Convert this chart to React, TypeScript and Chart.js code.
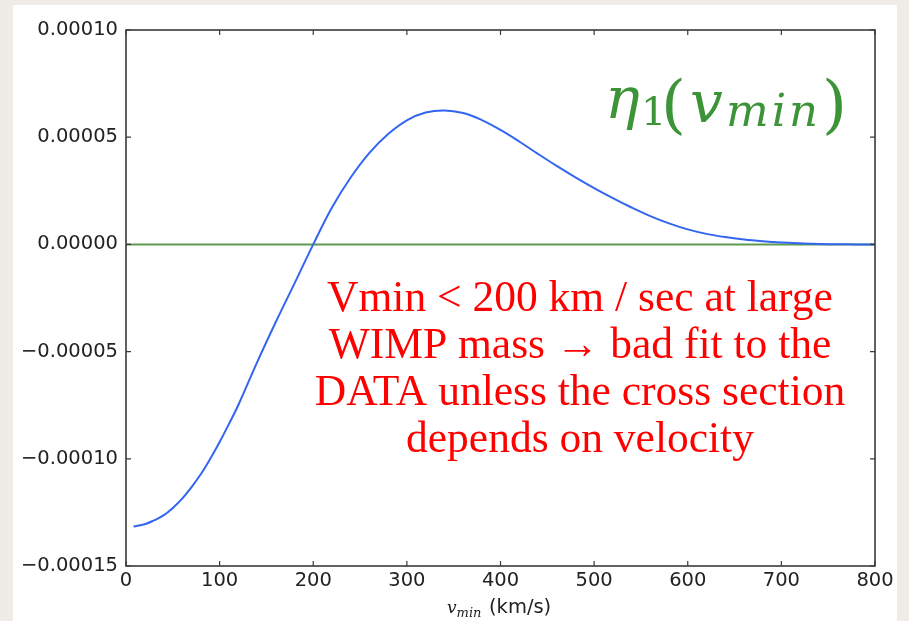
import React, { useEffect, useRef } from "react";
import { Chart, registerables } from "chart.js";

Chart.register(...registerables);

// ---- data ----
const vminValues = [8, 20, 30, 40, 50, 60, 70, 80, 90, 100, 110, 120, 140, 160, 180, 200, 220, 240, 260, 280, 300, 320, 340, 360, 380, 400, 420, 440, 460, 480, 500, 520, 540, 560, 580, 600, 620, 640, 660, 680, 700, 720, 740, 760, 780, 800];
const eta1Values = [
  -13.16e-5, -13.05e-5, -12.87e-5, -12.64e-5, -12.29e-5, -11.86e-5, -11.32e-5, -10.71e-5, -10.0e-5, -9.22e-5,
  -8.37e-5, -7.49e-5, -5.5e-5, -3.62e-5, -1.82e-5, 0, 1.72e-5, 3.12e-5, 4.27e-5, 5.15e-5,
  5.79e-5, 6.15e-5, 6.25e-5, 6.13e-5, 5.8e-5, 5.34e-5, 4.8e-5, 4.22e-5, 3.66e-5, 3.13e-5,
  2.63e-5, 2.16e-5, 1.72e-5, 1.32e-5, 0.98e-5, 0.7e-5, 0.49e-5, 0.34e-5, 0.23e-5, 0.15e-5,
  0.09e-5, 0.05e-5, 0.02e-5, 0.01e-5, 0, 0,
];
const zeroLineX = [0, 800];
const zeroLineY = [0, 0];
const xTickValues = [0, 100, 200, 300, 400, 500, 600, 700, 800];
const yTickValues = [-0.00015, -0.0001, -0.00005, 0, 0.00005, 0.0001];
const annotationLines = [
  "Vmin < 200 km / sec at large",
  "WIMP mass \u2192 bad fit to the",
  "DATA unless the cross section",
  "depends on velocity",
];
const xTitleMath = { base: "v", sub: "min" };
const xTitleUnit = "(km/s)";
const formulaParts = { eta: "\u03b7", one: "1", open: "(", v: "v", min: "min", close: ")" };

const fmtY = (v: number) => {
  const s = Math.abs(v) < 1e-12 ? "0.00000" : v.toFixed(5);
  return s.replace("-", "\u2212");
};

const bgPlugin = {
  id: "bg",
  beforeDraw(chart: any) {
    const ctx = chart.ctx;
    ctx.save();
    ctx.fillStyle = "#efece8";
    ctx.fillRect(0, 0, chart.width, chart.height);
    ctx.fillStyle = "#ffffff";
    ctx.fillRect(13, 5, 884, chart.height - 5);
    ctx.restore();
  },
};

const framePlugin = {
  id: "frame",
  afterDatasetsDraw(chart: any) {
    const { ctx, chartArea: a } = chart;
    const xs = chart.scales.x;
    const ys = chart.scales.y;
    ctx.save();
    ctx.strokeStyle = "#3a3a3a";
    ctx.lineWidth = 1.6;
    ctx.strokeRect(a.left, a.top, a.right - a.left, a.bottom - a.top);
    ctx.lineWidth = 1.2;
    const tl = 5;
    ctx.beginPath();
    xTickValues.forEach((v) => {
      const px = xs.getPixelForValue(v);
      ctx.moveTo(px, a.bottom);
      ctx.lineTo(px, a.bottom - tl);
      ctx.moveTo(px, a.top);
      ctx.lineTo(px, a.top + tl);
    });
    yTickValues.forEach((v) => {
      const py = ys.getPixelForValue(v);
      ctx.moveTo(a.left, py);
      ctx.lineTo(a.left + tl, py);
      ctx.moveTo(a.right, py);
      ctx.lineTo(a.right - tl, py);
    });
    ctx.stroke();
    ctx.restore();
  },
};

const textPlugin = {
  id: "texts",
  afterDraw(chart: any) {
    const ctx = chart.ctx;
    ctx.save();
    // red annotation
    ctx.fillStyle = "#ff0000";
    ctx.font = '43.5px "Liberation Serif", serif';
    ctx.textAlign = "center";
    ctx.textBaseline = "alphabetic";
    const baselines = [311, 358, 405, 452];
    annotationLines.forEach((t, i) => ctx.fillText(t, 580, baselines[i]));

    // formula eta_1(v_min)
    ctx.textAlign = "left";
    ctx.fillStyle = "#3d9438";
    ctx.font = 'italic 58px "DejaVu Serif", serif';
    ctx.fillText(formulaParts.eta, 605, 118);
    ctx.font = '40px "DejaVu Serif", serif';
    ctx.fillText(formulaParts.one, 641, 125);
    ctx.font = '64px "DejaVu Serif", serif';
    ctx.fillText(formulaParts.open, 661, 126);
    ctx.font = 'italic 58px "DejaVu Serif", serif';
    ctx.fillText(formulaParts.v, 690, 122);
    ctx.font = 'italic 45px "DejaVu Serif", serif';
    (ctx as any).letterSpacing = "3px";
    ctx.fillText(formulaParts.min, 726, 126);
    (ctx as any).letterSpacing = "0px";
    ctx.font = '64px "DejaVu Serif", serif';
    ctx.fillText(formulaParts.close, 822, 126);

    // x title
    ctx.fillStyle = "#222222";
    let x = 447;
    ctx.font = 'italic 17px "DejaVu Serif", serif';
    ctx.fillText(xTitleMath.base, x, 613);
    x += ctx.measureText(xTitleMath.base).width;
    ctx.font = 'italic 13px "DejaVu Serif", serif';
    ctx.fillText(xTitleMath.sub, x, 617);
    ctx.font = '19.5px "DejaVu Sans", sans-serif';
    ctx.fillText(xTitleUnit, 489, 613);
    ctx.restore();
  },
};

export default function App() {
  const ref = useRef<HTMLCanvasElement>(null);
  useEffect(() => {
    if (!ref.current) return;
    const chart = new Chart(ref.current, {
      type: "line",
      data: {
        datasets: [
          {
            label: "eta1",
            data: vminValues.map((v, i) => ({ x: v, y: eta1Values[i] })),
            borderColor: "#3366f0",
            borderWidth: 2,
            pointRadius: 0,
            tension: 0.4,
            fill: false,
            order: 0,
          },
          {
            label: "zero",
            data: zeroLineX.map((v, i) => ({ x: v, y: zeroLineY[i] })),
            borderColor: "#5f9a50",
            borderWidth: 2,
            pointRadius: 0,
            fill: false,
            order: 1,
          },
        ],
      },
      options: {
        animation: false,
        responsive: false,
        events: [],
        layout: { padding: { left: 0, top: 30, right: 34, bottom: 0 } },
        plugins: { legend: { display: false }, tooltip: { enabled: false } },
        scales: {
          x: {
            type: "linear",
            min: 0,
            max: 800,
            grid: { display: false, drawTicks: false },
            border: { display: false },
            afterBuildTicks: (s: any) => {
              s.ticks = xTickValues.map((v) => ({ value: v }));
            },
            afterFit: (s: any) => {
              s.height = 55;
            },
            ticks: {
              padding: 3,
              maxRotation: 0,
              autoSkip: false,
              color: "#222222",
              font: { family: "DejaVu Sans", size: 19.5 },
              callback: (v: any) => String(v),
            },
          },
          y: {
            type: "linear",
            min: -0.00015,
            max: 0.0001,
            grid: { display: false, drawTicks: false },
            border: { display: false },
            afterBuildTicks: (s: any) => {
              s.ticks = yTickValues.map((v) => ({ value: v }));
            },
            afterFit: (s: any) => {
              s.width = 126;
            },
            ticks: {
              padding: 8,
              autoSkip: false,
              color: "#222222",
              font: { family: "DejaVu Sans", size: 19.5 },
              callback: (v: any) => fmtY(Number(v)),
            },
          },
        },
      },
      plugins: [bgPlugin, framePlugin, textPlugin],
    });
    return () => chart.destroy();
  }, []);
  return (
    <div style={{ position: "fixed", left: 0, top: 0, width: 909, height: 621 }}>
      <canvas ref={ref} width={909} height={621} style={{ display: "block" }} />
    </div>
  );
}
